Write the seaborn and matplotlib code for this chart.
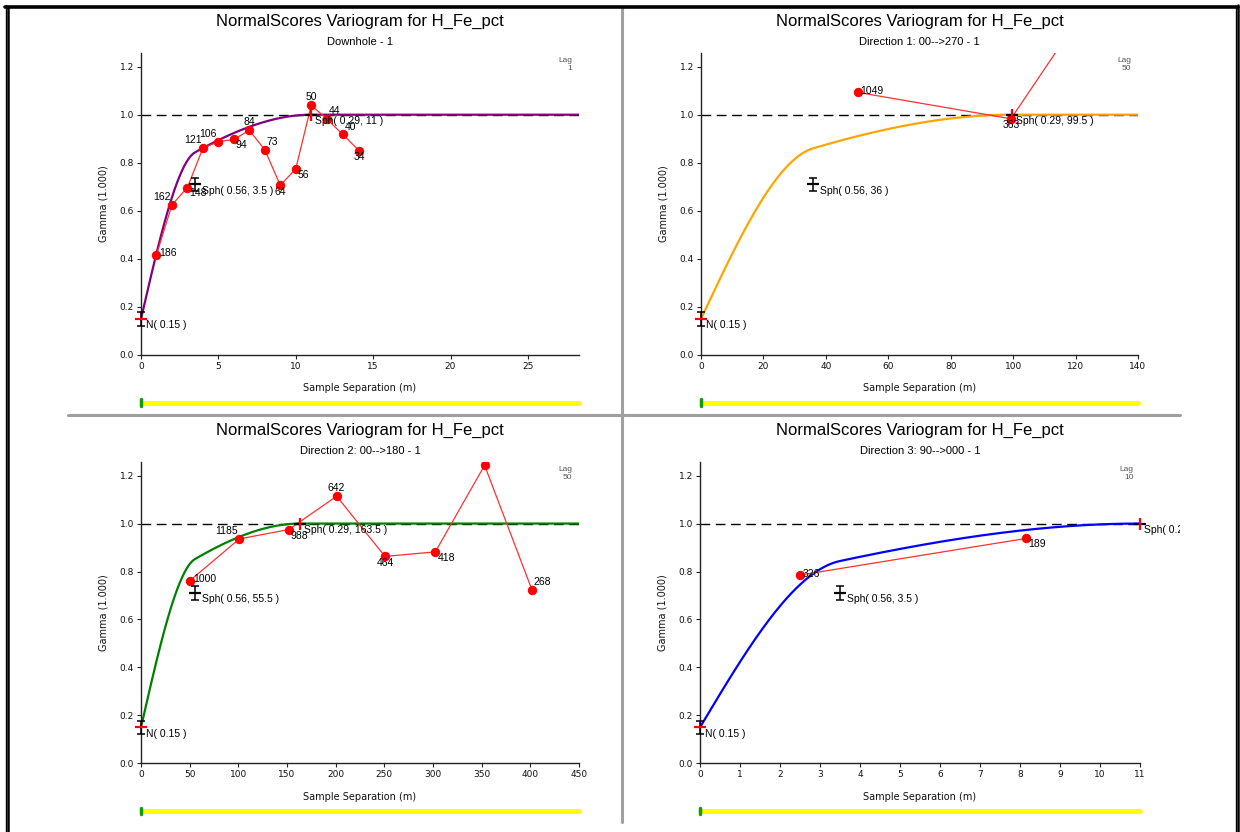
import numpy as np
import pandas as pd
import matplotlib
matplotlib.use("Agg")
import matplotlib.pyplot as plt
import seaborn as sns
from matplotlib.lines import Line2D
from matplotlib.transforms import Bbox, TransformedBbox

# ---------------- data ----------------
TITLE = "NormalScores Variogram for H_Fe_pct"
subtitles = ["Downhole - 1", "Direction 1: 00-->270 - 1",
             "Direction 2: 00-->180 - 1", "Direction 3: 90-->000 - 1"]
lag_sizes = ["1", "50", "50", "10"]
model_colors = ["#800080", "#FFA500", "#008000", "#0000FF"]

nugget = 0.15
sill1 = 0.56
sill2 = 0.29
range1 = [3.5, 36, 55.5, 3.5]
range2 = [11, 99.5, 163.5, 11]
range1_text = ["3.5", "36", "55.5", "3.5"]
range2_text = ["11", "99.5", "163.5", "11"]

x_max = [28.3, 140, 450, 11]
x_step = [5, 20, 50, 1]

# experimental variograms (lag distance, gamma, pairs)
dh_lag = [1.0, 2.0, 3.0, 4.0, 5.0, 6.0, 7.0, 8.0, 9.0, 10.0, 11.0, 12.0, 13.03, 14.1]
dh_gamma = [0.417, 0.625, 0.697, 0.861, 0.888, 0.897, 0.935, 0.854, 0.706, 0.775, 1.039, 0.983, 0.918, 0.850]
dh_pairs = ["186", "162", "148", "121", "106", "94", "84", "73", "64", "56", "50", "44", "40", "34"]
dh_pos = ["r", "ul", "lr", "ul", "ul", "lr", "u", "ur", "d", "lr", "u", "ur", "ur", "d"]

d1_lag = [50.2, 99.3, 150.0]
d1_gamma = [1.093, 0.983, 1.96]
d1_pairs = ["1049", "363", ""]
d1_pos = ["r", "d", "u"]

d2_lag = [50.3, 101.0, 151.7, 201.0, 250.7, 302.4, 353.0, 401.7]
d2_gamma = [0.762, 0.936, 0.975, 1.114, 0.863, 0.882, 1.243, 0.723]
d2_pairs = ["1000", "1185", "988", "642", "464", "418", "", "268"]
d2_pos = ["r", "ul", "lr", "u", "d", "lr", "u", "ur"]

d3_lag = [2.49, 8.15]
d3_gamma = [0.785, 0.938]
d3_pairs = ["326", "189"]
d3_pos = ["r", "lr"]

exp_lags = [dh_lag, d1_lag, d2_lag, d3_lag]
exp_gammas = [dh_gamma, d1_gamma, d2_gamma, d3_gamma]
exp_pairs = [dh_pairs, d1_pairs, d2_pairs, d3_pairs]
exp_pos = [dh_pos, d1_pos, d2_pos, d3_pos]

# ---------------- style ----------------
sns.set_theme(style="ticks")
plt.rcParams["font.family"] = ["DejaVu Sans"]
plt.rcParams["text.color"] = "black"
LAB = ["Liberation Sans", "DejaVu Sans"]

W, H = 1240, 832
fig = plt.figure(figsize=(W / 100, H / 100), dpi=100)


def fx(px):
    return px / W


def fy(py):
    return 1 - py / H


# axes rectangles (pixels): left, right, top, bottom
rects = [(141, 579, 52.7, 355), (701, 1138, 52.7, 355),
         (141, 579, 461.7, 763.3), (700, 1140, 461.7, 763.3)]
panel_right = [620, 1180, 620, 1180]


def sph(h, a):
    r = np.clip(h / a, 0, 1)
    return 1.5 * r - 0.5 * r ** 3


offsets = {"r": (2.0, 1.0, "left"), "ul": (-1.0, 5.6, "right"), "ur": (1.2, 5.6, "left"),
           "lr": (1.5, -4.3, "left"), "u": (0, 5.8, "center"), "d": (0, -4.5, "center")}

for i in range(4):
    l, r, t, b = rects[i]
    ax = fig.add_axes([fx(l), fy(b), fx(r) - fx(l), fy(t) - fy(b)])
    ax.set_xlim(0, x_max[i])
    ax.set_ylim(0, 1.258)
    clip = TransformedBbox(Bbox([[fx(l) - 0.02, fy(b) - 0.02], [fx(panel_right[i]), fy(t)]]),
                           fig.transFigure)

    # model curve
    h = np.linspace(0, x_max[i], 600)
    g = nugget + sill1 * sph(h, range1[i]) + sill2 * sph(h, range2[i])
    ax.axhline(1.0, color="black", lw=1.0, ls=(0, (7, 4)), zorder=1)
    sns.lineplot(x=h, y=g, color=model_colors[i], lw=1.6, ax=ax, zorder=2)

    # experimental
    df = pd.DataFrame({"lag": exp_lags[i], "gamma": exp_gammas[i]})
    sns.lineplot(data=df, x="lag", y="gamma", sort=False, color="#ff3030", lw=0.9,
                 marker="o", markersize=6, markeredgecolor="red",
                 markerfacecolor="red", ax=ax, zorder=4)
    for xv, yv, lab, pos in zip(exp_lags[i], exp_gammas[i], exp_pairs[i], exp_pos[i]):
        if not lab:
            continue
        dx, dy, ha = offsets[pos]
        tt = ax.annotate(lab, (xv, yv), xytext=(dx, dy), textcoords="offset points",
                         ha=ha, va="center", fontsize=7.5, family=LAB,
                         color="black", zorder=6, annotation_clip=False)
        tt.set_clip_box(clip)
        tt.set_clip_on(True)

    # nugget marker
    ax.errorbar([0], [nugget], yerr=0.028, color="black", lw=1.1, capsize=3,
                capthick=1.1, zorder=5, clip_on=False)
    ax.plot([0], [nugget], marker="_", ms=9, mew=1.6, color="red", zorder=5, clip_on=False)
    tt = ax.annotate(f"N( {nugget:.2f} )", (0, nugget), xytext=(3.5, -4.5),
                     textcoords="offset points", ha="left", va="center", fontsize=7.5,
                     family=LAB, zorder=6)
    tt.set_clip_box(clip)

    # structure 1 marker
    y1 = nugget + sill1
    ax.errorbar([range1[i]], [y1], yerr=0.028, color="black", lw=1.1, capsize=3,
                capthick=1.1, zorder=5)
    ax.plot([range1[i]], [y1], marker="_", ms=9, mew=1.6, color="black", zorder=5)
    tt = ax.annotate(f"Sph( {sill1:.2f}, {range1_text[i]} )", (range1[i], y1),
                     xytext=(5, -4.5), textcoords="offset points", ha="left", va="center",
                     fontsize=7.5, family=LAB, zorder=6)
    tt.set_clip_box(clip)

    # structure 2 marker
    y2 = nugget + sill1 + sill2
    ax.plot([range2[i]], [y2], marker="_", ms=9, mew=1.6, color="black", zorder=5,
            clip_on=False)
    ax.plot([range2[i]], [y2], marker="|", ms=9, mew=1.6, color="red", zorder=5,
            clip_on=False)
    tt = ax.annotate(f"Sph( {sill2:.2f}, {range2_text[i]} )", (range2[i], y2),
                     xytext=(3, -4.5), textcoords="offset points", ha="left", va="center",
                     fontsize=7.5, family=LAB, zorder=6, annotation_clip=False)
    tt.set_clip_box(clip)
    tt.set_clip_on(True)

    # axes styling
    sns.despine(ax=ax)
    for s in ("left", "bottom"):
        ax.spines[s].set_color("#222222")
        ax.spines[s].set_linewidth(1.0)
    ax.set_xticks(np.arange(0, x_max[i] + 1e-6, x_step[i]))
    ax.set_yticks(np.arange(0, 1.21, 0.2))
    ax.yaxis.set_major_formatter(matplotlib.ticker.FormatStrFormatter("%.1f"))
    ax.xaxis.set_major_formatter(matplotlib.ticker.FormatStrFormatter("%d"))
    ax.tick_params(labelsize=6.5, length=3, width=0.8, color="#222222", pad=2,
                   labelcolor="#111111")
    ax.set_xlabel("Sample Separation (m)", fontsize=7, labelpad=9, color="#111111")
    ax.set_ylabel("Gamma (1.000)", fontsize=7, labelpad=8, color="#111111")
    ax.grid(False)
    ax.text(0.985, 0.985, "Lag\n" + lag_sizes[i], transform=ax.transAxes, ha="right",
            va="top", fontsize=6, color="#555555", multialignment="right", family=LAB)

    # titles
    cx = (fx(l) + fx(r)) / 2
    fig.text(cx, fy(t - 31), TITLE, ha="center", va="center", fontsize=12,
             family=LAB, color="black")
    fig.text(cx, fy(t - 11), subtitles[i], ha="center", va="center", fontsize=8,
             family=LAB, color="black")

    # yellow progress bar with green start mark
    ybar = b + 47.5
    fig.add_artist(Line2D([fx(l + 1), fx(r)], [fy(ybar), fy(ybar)], color="#ffff00", lw=3.5))
    fig.add_artist(Line2D([fx(l), fx(l)], [fy(ybar - 3), fy(ybar + 3)], color="#119911", lw=2.5))

# panel dividers and outer frame
grey = "#a0a0a0"
fig.add_artist(Line2D([fx(68), fx(1180)], [fy(414.5), fy(414.5)], color=grey, lw=2.2))
fig.add_artist(Line2D([fx(622), fx(622)], [fy(8), fy(822)], color=grey, lw=2.2))
fig.add_artist(Line2D([fx(5), fx(1238)], [fy(6.5), fy(6.5)], color="black", lw=2.6))
fig.add_artist(Line2D([fx(5.5), fx(5.5)], [fy(5), fy(832)], color="black", lw=1.0))
fig.add_artist(Line2D([fx(8.3), fx(8.3)], [fy(7), fy(832)], color="black", lw=1.8))
fig.add_artist(Line2D([fx(1235.5), fx(1235.5)], [fy(7), fy(832)], color="black", lw=1.0))
fig.add_artist(Line2D([fx(1238.3), fx(1238.3)], [fy(5), fy(832)], color="black", lw=1.8))

fig.savefig("out.png", dpi=100, facecolor="white")
